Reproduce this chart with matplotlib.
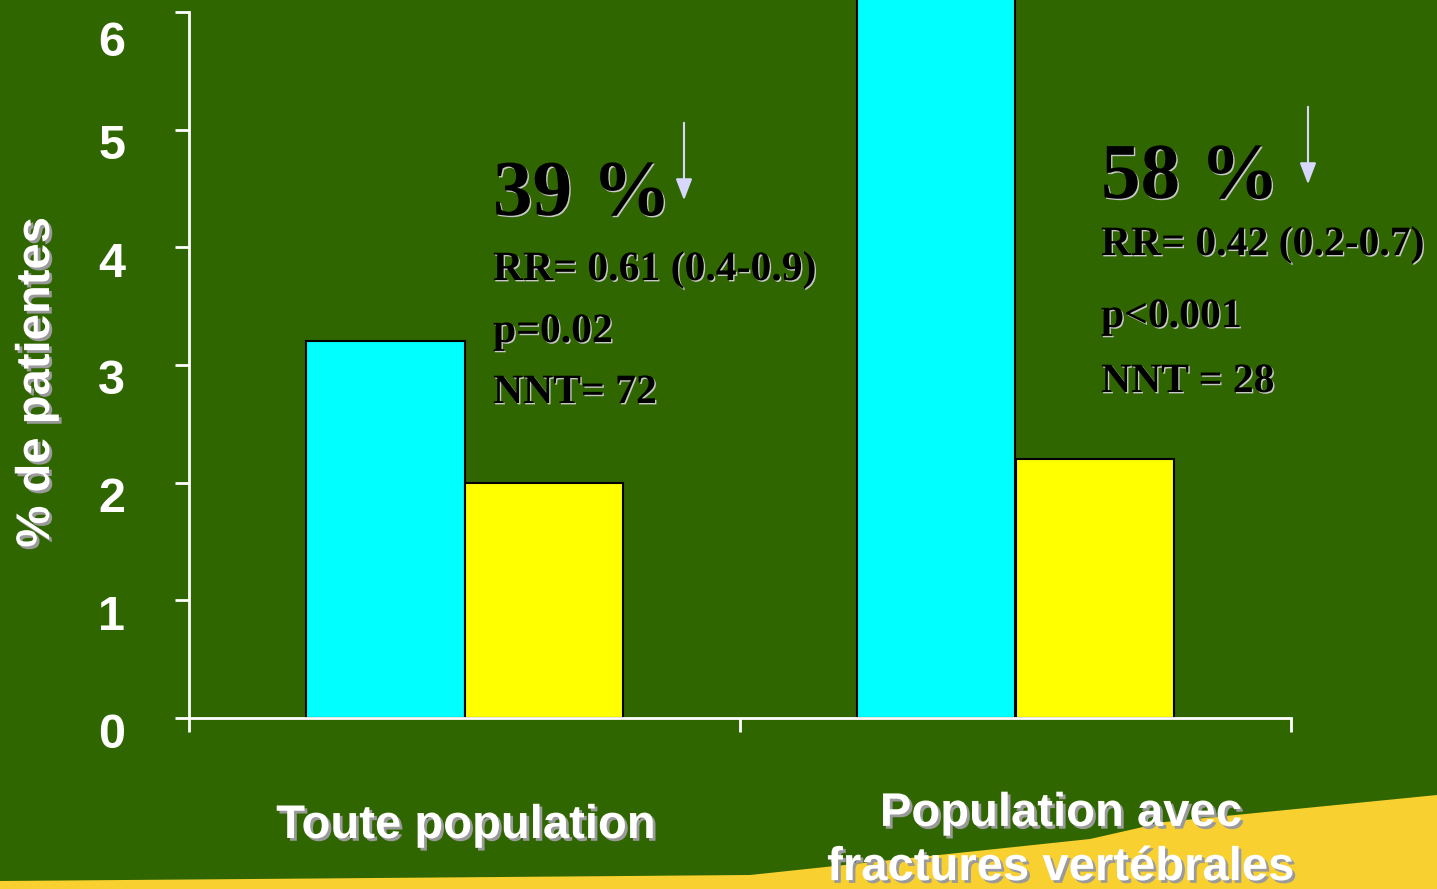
import matplotlib
matplotlib.use("Agg")
import matplotlib.pyplot as plt
import matplotlib.patheffects as pe
from matplotlib.patches import Polygon, FancyArrowPatch
from matplotlib.transforms import ScaledTranslation
import numpy as np

# Data
categories = ["Toute population", "Population avec\nfractures vertébrales"]
placebo = [3.2, 6.2]
treated = [2.0, 2.2]
reductions = ["39 %", "58 %"]
rr_text = ["RR= 0.61 (0.4-0.9)", "RR= 0.42 (0.2-0.7)"]
p_text = ["p=0.02", "p<0.001"]
nnt_text = ["NNT= 72", "NNT = 28"]
yticks = [0, 1, 2, 3, 4, 5, 6]

BG = "#306600"
DPI = 100
fig = plt.figure(figsize=(14.37, 8.89), dpi=DPI, facecolor=BG)

# decorative band along the bottom
band = Polygon([(0, 0), (0, 1 - 881 / 889), (750 / 1437, 1 - 875 / 889),
                (1090 / 1437, 1 - 839 / 889), (1165 / 1437, 1 - 822 / 889),
                (1, 1 - 795 / 889), (1, 0)],
               closed=True, transform=fig.transFigure, facecolor="#F8D030",
               edgecolor="none", zorder=0)
fig.patches.append(band)

ax = fig.add_axes([189 / 1437, 1 - 718 / 889, (1291 - 189) / 1437, (718 - 12) / 889])
ax.set_facecolor("none")

x = np.arange(len(categories))
w = 0.288
ax.bar(x - w / 2, placebo, width=w, color="#00FFFF", edgecolor="black",
       linewidth=1.5, clip_on=False, zorder=2)
ax.bar(x + w / 2, treated, width=w, color="#FFFF00", edgecolor="black",
       linewidth=1.5, clip_on=False, zorder=2)

ax.set_xlim(-0.5, 1.5)
ax.set_ylim(0, 6)

for s in ["top", "right"]:
    ax.spines[s].set_visible(False)
for s in ["left", "bottom"]:
    ax.spines[s].set_color("white")
    ax.spines[s].set_linewidth(2)
    ax.spines[s].set_zorder(3)

white_shadow = [pe.SimplePatchShadow(offset=(2, -2), shadow_rgbFace="#9a9a9a", alpha=1.0),
                pe.Normal()]

ax.set_xticks([-0.5, 0.5, 1.5], labels=[])
ax.tick_params(axis="x", length=10, width=2, color="white", direction="out")
ax.set_yticks(yticks, labels=[str(v) for v in yticks])
ax.tick_params(axis="y", length=10, width=2, color="white", direction="out",
               pad=36, labelsize=35, labelcolor="white")
for lab in ax.get_yticklabels():
    lab.set_fontfamily("Liberation Sans")
    lab.set_fontweight("bold")
    dy = -27 if lab.get_text() == "6" else -12
    lab.set_transform(lab.get_transform() + ScaledTranslation(0, dy / DPI, fig.dpi_scale_trans))

fig.text(37 / 1437, 1 - 382 / 889, "% de patientes", rotation=90, color="white",
         fontsize=34, fontweight="bold", family="Liberation Sans",
         ha="center", va="center", path_effects=white_shadow)

# category labels under the axis
fig.text(466 / 1437, 1 - 826 / 889, categories[0], color="white", fontsize=34,
         fontweight="bold", family="Liberation Sans", ha="center", va="center",
         path_effects=white_shadow)
fig.text(1061 / 1437, 1 - 841 / 889, categories[1], color="white", fontsize=34,
         fontweight="bold", family="Liberation Sans", ha="center", va="center",
         linespacing=1.3, path_effects=white_shadow)

# annotations with reduction statistics
dark_shadow = [pe.SimplePatchShadow(offset=(1.0, -1.0), shadow_rgbFace="#c8c8c8", alpha=1.0),
               pe.Normal()]
blocks = [
    dict(x=493, big=215, rr=280, p=342, nnt=403, arrow_x=684, arrow_y=(120, 203)),
    dict(x=1101, big=198, rr=255, p=327, nnt=392, arrow_x=1308, arrow_y=(104, 187)),
]
for i, b in enumerate(blocks):
    fx = b["x"] / 1437
    fig.text(fx, 1 - b["big"] / 889, reductions[i], fontsize=57, fontweight="bold",
             family="Liberation Serif", color="black", va="baseline",
             path_effects=dark_shadow)
    for key, txt in (("rr", rr_text[i]), ("p", p_text[i]), ("nnt", nnt_text[i])):
        fig.text(fx, 1 - b[key] / 889, txt, fontsize=30, fontweight="bold",
                 family="Liberation Serif", color="black", va="baseline",
                 path_effects=dark_shadow)
    arrow_x = b["arrow_x"] / 1437
    y0, y1 = b["arrow_y"]
    fig.add_artist(FancyArrowPatch(
        (arrow_x, 1 - y0 / 889), (arrow_x, 1 - y1 / 889), transform=fig.transFigure,
        arrowstyle="-|>,head_length=13,head_width=5", color="#D8D8FF",
        linewidth=1.5, mutation_scale=1))

fig.savefig("out.png", dpi=DPI, facecolor=BG)
